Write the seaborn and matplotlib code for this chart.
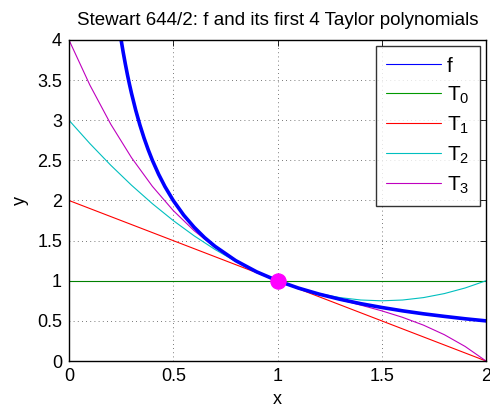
import numpy as np
import pandas as pd
import matplotlib
matplotlib.use("Agg")
import matplotlib.pyplot as plt
import seaborn as sns

# Data
f_x = [0.25, 0.26, 0.27, 0.28, 0.29, 0.30, 0.32, 0.34, 0.36, 0.38, 0.40, 0.43, 0.46, 0.50,
       0.55, 0.60, 0.65, 0.70, 0.80, 0.90, 1.00, 1.10, 1.20, 1.30, 1.40, 1.50, 1.60, 1.70,
       1.80, 1.90, 2.00]
f_y = [4.000, 3.846, 3.704, 3.571, 3.448, 3.333, 3.125, 2.941, 2.778, 2.632, 2.500, 2.326,
       2.174, 2.000, 1.818, 1.667, 1.538, 1.429, 1.250, 1.111, 1.000, 0.909, 0.833, 0.769,
       0.714, 0.667, 0.625, 0.588, 0.556, 0.526, 0.500]
t0_x = [0.0, 2.0]
t0_y = [1.0, 1.0]
t1_x = [0.0, 2.0]
t1_y = [2.0, 0.0]
t_x = [0.0, 0.1, 0.2, 0.3, 0.4, 0.5, 0.6, 0.7, 0.8, 0.9, 1.0, 1.1, 1.2, 1.3, 1.4, 1.5,
       1.6, 1.7, 1.8, 1.9, 2.0]
t2_y = [3.00, 2.71, 2.44, 2.19, 1.96, 1.75, 1.56, 1.39, 1.24, 1.11, 1.00, 0.91, 0.84, 0.79,
        0.76, 0.75, 0.76, 0.79, 0.84, 0.91, 1.00]
t3_y = [4.000, 3.439, 2.952, 2.533, 2.176, 1.875, 1.624, 1.417, 1.248, 1.111, 1.000, 0.909,
        0.832, 0.763, 0.696, 0.625, 0.544, 0.447, 0.328, 0.181, 0.000]
point_x = [1.0]
point_y = [1.0]
x_ticks = [0, 0.5, 1, 1.5, 2]
x_tick_labels = ["0", "0.5", "1", "1.5", "2"]
y_ticks = [0, 0.5, 1, 1.5, 2, 2.5, 3, 3.5, 4]
y_tick_labels = ["0", "0.5", "1", "1.5", "2", "2.5", "3", "3.5", "4"]

sns.set_style("white")
plt.rcParams['font.family'] = ['Liberation Sans', 'DejaVu Sans']
plt.rcParams['mathtext.fontset'] = 'custom'
plt.rcParams['mathtext.rm'] = 'Liberation Sans'
plt.rcParams['mathtext.it'] = 'Liberation Sans'
plt.rcParams['text.color'] = 'black'
plt.rcParams['axes.labelcolor'] = 'black'

fig = plt.figure(figsize=(4.9, 4.07), dpi=100)
ax = fig.add_axes([69/490, 1-361/407, (486-69)/490, (361-40)/407])

kw = dict(sort=False, estimator=None, ax=ax)
sns.lineplot(x=t0_x, y=t0_y, color=(0, 0.5, 0), linewidth=0.8, **kw)
sns.lineplot(x=t1_x, y=t1_y, color=(1, 0, 0), linewidth=0.8, **kw)
sns.lineplot(x=t_x, y=t2_y, color=(0, 0.75, 0.75), linewidth=0.8, **kw)
sns.lineplot(x=t_x, y=t3_y, color=(0.75, 0, 0.75), linewidth=0.8, **kw)
sns.lineplot(x=f_x, y=f_y, color=(0, 0, 1), linewidth=2.6, **kw)
sns.scatterplot(x=point_x, y=point_y, color=(1, 0, 1), s=120, edgecolor=(1, 0, 1), zorder=5, ax=ax)

from matplotlib.lines import Line2D
handles = [Line2D([], [], color=(0, 0, 1), lw=0.8),
           Line2D([], [], color=(0, 0.6, 0), lw=0.8),
           Line2D([], [], color=(1, 0, 0), lw=0.8),
           Line2D([], [], color=(0, 0.75, 0.75), lw=0.8),
           Line2D([], [], color=(0.75, 0, 0.75), lw=0.8)]
labels = ["f", "T$_0$", "T$_1$", "T$_2$", "T$_3$"]
leg = ax.legend(handles, labels, loc="upper right", fontsize=15, frameon=True, fancybox=False,
                edgecolor="black", handlelength=2.6, borderaxespad=0.3, labelspacing=0.42,
                handletextpad=0.3, borderpad=0.5)
leg.get_frame().set_linewidth(1.0)

ax.set_xlim(0, 2)
ax.set_ylim(0, 4)
ax.set_xticks(x_ticks)
ax.set_xticklabels(x_tick_labels)
ax.set_yticks(y_ticks)
ax.set_yticklabels(y_tick_labels)
ax.tick_params(direction="in", top=True, right=True, length=4, width=0.6, labelsize=13,
               colors="black", pad=5)
ax.grid(True, linestyle=(0, (1, 4)), color="black", linewidth=0.6, alpha=0.7)
for s in ax.spines.values():
    s.set_visible(True)
    s.set_color("black")
    s.set_linewidth(1.0)
ax.set_xlabel("x", fontsize=13, labelpad=4, color="black")
ax.set_ylabel("y", fontsize=13, labelpad=6, color="black")
ax.set_title("Stewart 644/2: f and its first 4 Taylor polynomials", fontsize=13.5, pad=11,
             color="black")

fig.savefig("out.png", dpi=100)
